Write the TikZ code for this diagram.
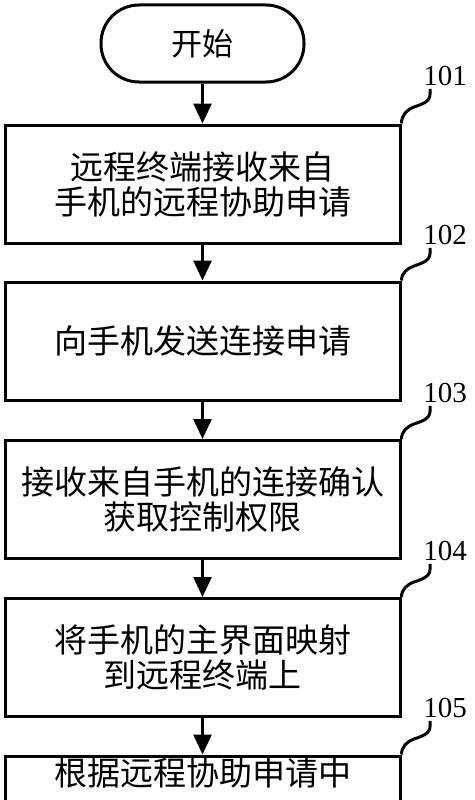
\documentclass[tikz,border=0pt]{standalone}
\usepackage{fontspec}
\setmainfont{Liberation Serif}
\newfontfamily\cjk{Noto Sans CJK SC}
\usetikzlibrary{arrows.meta}
\begin{document}
\begin{tikzpicture}[x=1pt,y=1pt,
  stepbox/.style={draw, line width=3pt, minimum width=395pt, minimum height=118pt, inner sep=0pt, align=center, font=\cjk\fontsize{33pt}{35pt}\selectfont},
  term/.style={draw, line width=3pt, rounded corners=38pt, minimum width=203pt, minimum height=77pt, inner sep=0pt, font=\cjk\fontsize{31pt}{35pt}\selectfont},
  lbl/.style={inner sep=0pt, font=\fontsize{29pt}{30pt}\selectfont},
  flow/.style={line width=3pt, -{Triangle[length=20pt,width=18pt]}},
  conn/.style={line width=3pt}]
\path[use as bounding box, clip] (0,0) rectangle (474,-800);
\node[term] (s) at (202.5,-43.5) {开始};
\node[stepbox] (b1) at (202.5,-184) {远程终端接收来自\\手机的远程协助申请};
\node[stepbox] (b2) at (202.5,-341) {向手机发送连接申请};
\node[stepbox] (b3) at (202.5,-499.5) {接收来自手机的连接确认\\获取控制权限};
\node[stepbox] (b4) at (202.5,-657.5) {将手机的主界面映射\\到远程终端上};
\node[stepbox, minimum height=118pt] (b5) at (202.5,-815) {};
\node[inner sep=0pt, font=\cjk\fontsize{33pt}{35pt}\selectfont] (t5) at (202.5,-773) {根据远程协助申请中};
\node[lbl] (l1) at (445,-76) {101};
\node[lbl] (l2) at (445,-235) {102};
\node[lbl] (l3) at (445,-393) {103};
\node[lbl] (l4) at (445,-551) {104};
\node[lbl] (l5) at (445,-708) {105};
\draw[flow] (s) -- (b1);
\draw[flow] (b1) -- (b2);
\draw[flow] (b2) -- (b3);
\draw[flow] (b3) -- (b4);
\draw[flow] (b4) -- (b5);
\foreach \b/\l in {b1/l1,b2/l2,b3/l3,b4/l4,b5/l5}{
  \coordinate (e\l) at ([xshift=7pt,yshift=-3pt]\l.south west);
  \draw[conn] (\b.north east) to[out=90,in=200] ([xshift=-16pt,yshift=-18pt]e\l) to[out=20,in=-90] ([yshift=-5pt]e\l) -- (e\l);
}
\end{tikzpicture}
\end{document}
